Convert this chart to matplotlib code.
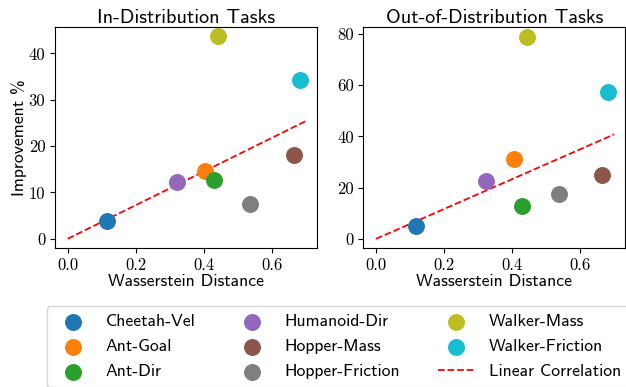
import numpy as np
import matplotlib.pyplot as plt

tasks = ["Cheetah-Vel", "Ant-Goal", "Ant-Dir", "Humanoid-Dir",
         "Hopper-Mass", "Hopper-Friction", "Walker-Mass", "Walker-Friction"]
colors = ["tab:blue", "tab:orange", "tab:green", "tab:purple",
          "tab:brown", "tab:gray", "tab:olive", "tab:cyan"]

wdist_in = [0.117, 0.403, 0.430, 0.322, 0.664, 0.537, 0.443, 0.683]
improv_in = [3.8, 14.7, 12.6, 12.3, 18.1, 7.5, 43.7, 34.3]

wdist_out = [0.117, 0.405, 0.430, 0.322, 0.664, 0.537, 0.443, 0.683]
improv_out = [5.0, 31.2, 13.0, 22.7, 25.0, 17.4, 78.7, 57.2]

slope_in = 36.3
slope_out = 58.3

plt.rcParams['axes.unicode_minus'] = False
sans = 'cmss10'
serif = 'cmr10'

fig, axes = plt.subplots(1, 2, figsize=(6.26, 3.87), dpi=100)
fig.subplots_adjust(left=0.088, right=0.999, top=0.93, bottom=0.359, wspace=0.177)

line_x = np.array([0.0, 0.7])
panels = [(axes[0], wdist_in, improv_in, slope_in, "In-Distribution Tasks"),
          (axes[1], wdist_out, improv_out, slope_out, "Out-of-Distribution Tasks")]

for ax, xs, ys, slope, title in panels:
    for name, c, x, y in zip(tasks, colors, xs, ys):
        ax.scatter(x, y, s=125, color=c, label=name, zorder=3)
    ax.plot(line_x, slope * line_x, "r--", lw=1.3, label="Linear Correlation", zorder=2)
    ax.set_title(title, fontfamily=sans, fontsize=14.5, pad=3)
    ax.set_xlabel("Wasserstein Distance", fontfamily=sans, fontsize=12.7, labelpad=1)
    ax.set_xticks([0.0, 0.2, 0.4, 0.6])
    ax.set_xlim(-0.037, 0.733)

axes[0].set_ylabel("Improvement %", fontfamily=sans, fontsize=12.7, labelpad=1)
axes[0].set_yticks([0, 10, 20, 30, 40])
axes[0].set_ylim(-2.0, 45.7)
axes[1].set_yticks([0, 20, 40, 60, 80])
axes[1].set_ylim(-3.6, 82.7)
for ax in axes:
    for lab in ax.get_xticklabels() + ax.get_yticklabels():
        lab.set_fontfamily(serif)
        lab.set_fontsize(12)

handles, labels = axes[0].get_legend_handles_labels()
fig.legend(handles, labels, loc="upper left", bbox_to_anchor=(0.075, 0.209),
           ncol=3, prop={'family': sans, 'size': 12.7}, frameon=True,
           handlelength=2.04, columnspacing=2.15, labelspacing=0.55,
           borderaxespad=0, handletextpad=0.85, borderpad=0.45)

fig.savefig("out.png", dpi=100)
